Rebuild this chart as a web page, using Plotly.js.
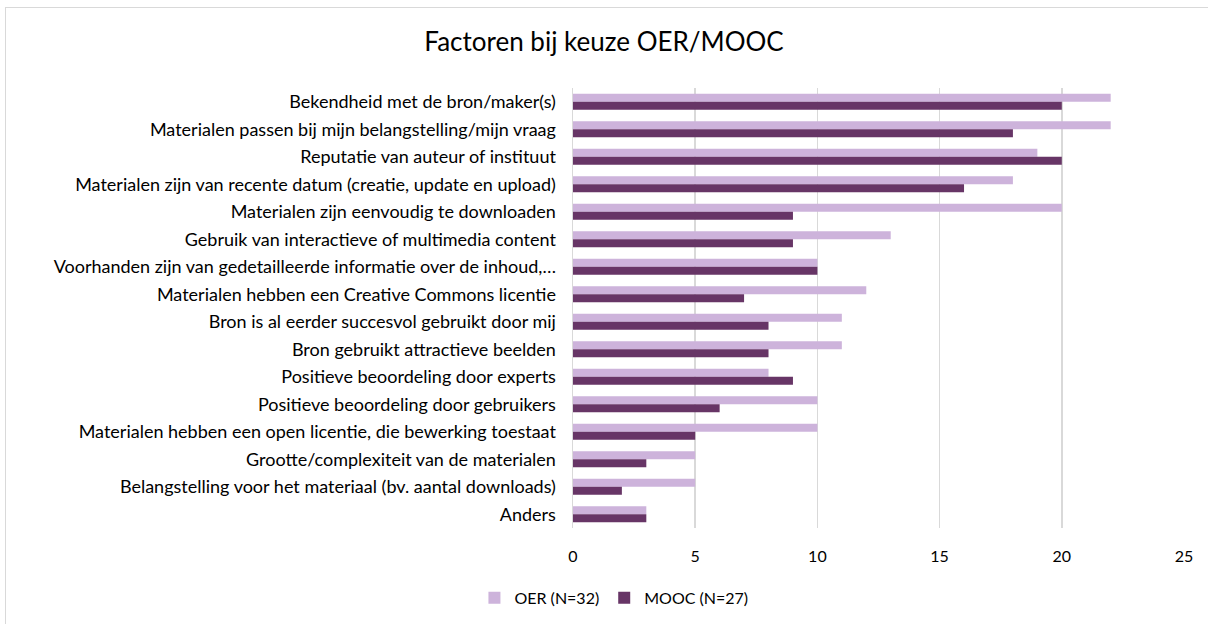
<!DOCTYPE html>
<html><head><meta charset="utf-8">
<script src="https://cdn.plot.ly/plotly-3.0.1.min.js"></script>
<style>
html,body{margin:0;padding:0;background:#fff;overflow:hidden}
#frame{position:absolute;left:5px;top:7px;width:1210px;height:630px;border:1px solid #d9d9d9;box-sizing:border-box}
#chart{position:absolute;left:0;top:0;width:1208px;height:624px}
</style></head>
<body>
<div id="frame"></div>
<div id="chart"></div>
<script>
const categories = [
  "Bekendheid met de bron/maker(s)",
  "Materialen passen bij mijn belangstelling/mijn vraag",
  "Reputatie van auteur of instituut",
  "Materialen zijn van recente datum (creatie, update en upload)",
  "Materialen zijn eenvoudig te downloaden",
  "Gebruik van interactieve of multimedia content",
  "Voorhanden zijn van gedetailleerde informatie over de inhoud,…",
  "Materialen hebben een Creative Commons licentie",
  "Bron is al eerder succesvol gebruikt door mij",
  "Bron gebruikt attractieve beelden",
  "Positieve beoordeling door experts",
  "Positieve beoordeling door gebruikers",
  "Materialen hebben een open licentie, die bewerking toestaat",
  "Grootte/complexiteit van de materialen",
  "Belangstelling voor het materiaal (bv. aantal downloads)",
  "Anders"
];
const oerValues  = [22, 22, 19, 18, 20, 13, 10, 12, 11, 11, 8, 10, 10, 5, 5, 3];
const moocValues = [20, 18, 20, 16, 9, 9, 10, 7, 8, 8, 9, 6, 5, 3, 2, 3];
const seriesNames = ["OER (N=32)", "MOOC (N=27)"];
const xTicks = [0, 5, 10, 15, 20, 25];

const font = "Lato, Open Sans, sans-serif";
const traces = [
  {type:"bar", orientation:"h", name:seriesNames[0], y:categories, x:oerValues,
   marker:{color:"#CDB3DB"}, hoverinfo:"x"},
  {type:"bar", orientation:"h", name:seriesNames[1], y:categories, x:moocValues,
   marker:{color:"#673566"}, hoverinfo:"x"}
];
const layout = {
  width:1208, height:624,
  paper_bgcolor:"rgba(0,0,0,0)", plot_bgcolor:"rgba(0,0,0,0)",
  font:{family:font, size:16, color:"#000"},
  title:{text:"Factoren bij keuze OER/MOOC", font:{family:font, size:26, color:"#000"},
         x:0.5, xanchor:"center", xref:"container", y:0.933, yanchor:"middle"},
  margin:{l:573, r:24, t:88, b:96, pad:0, autoexpand:false},
  barmode:"group", bargap:0.42, bargroupgap:0,
  xaxis:{range:[0,25], tickvals:xTicks, ticktext:xTicks.map(String), automargin:false,
         showgrid:true, gridcolor:"#d9d9d9", gridwidth:1.5, zeroline:false,
         showline:false, ticks:"", ticklabelstandoff:17, tickfont:{size:16}},
  yaxis:{autorange:"reversed", type:"category", showline:true, linecolor:"#d9d9d9", linewidth:1.5,
         automargin:false, ticks:"", ticklabelstandoff:12, tickfont:{size:18}, showgrid:false},
  showlegend:true,
  legend:{orientation:"h", x:0.067, xanchor:"center", y:-0.12, yanchor:"top",
          font:{size:16}, traceorder:"normal"}
};
Plotly.newPlot("chart", traces, layout, {displayModeBar:false, staticPlot:true});
</script>
</body></html>
